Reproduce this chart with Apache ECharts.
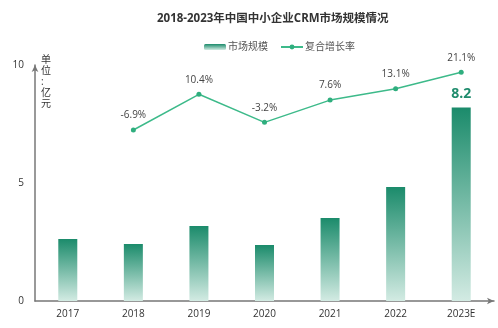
<!DOCTYPE html>
<html><head><meta charset="utf-8">
<script src="https://cdn.jsdelivr.net/npm/echarts@6/dist/echarts.min.js"></script>
<style>html,body{margin:0;padding:0;background:#fff}#c{width:498px;height:328px}</style>
</head><body><div id="c"></div>
<script>
const categories = ['2017','2018','2019','2020','2021','2022','2023E'];
const marketSize = [2.63, 2.42, 3.18, 2.37, 3.52, 4.83, 8.2];
const growthRate = [null, -6.9, 10.4, -3.2, 7.6, 13.1, 21.1];
const yTicks = [0, 5, 10];

const FONT = '"Open Sans","Noto Sans CJK SC",sans-serif';
const chart = echarts.init(document.getElementById('c'));
chart.setOption({
  animation: false,
  textStyle: {fontFamily: FONT},
  title: {
    text: '2018-2023年中国中小企业CRM市场规模情况',
    left: 152, top: 8,
    textStyle: {fontSize: 11.5, fontWeight: 'bold', color: '#333', fontFamily: FONT}
  },
  legend: {
    top: 37, left: 199, itemWidth: 22, itemHeight: 6, itemGap: 12,
    textStyle: {fontSize: 10, color: '#555', fontFamily: FONT, padding: [0, 0, 0, -3]},
    data: ['市场规模', '复合增长率']
  },
  grid: {left: 35, right: 4, top: 65, bottom: 27},
  xAxis: {
    type: 'category', data: categories,
    axisLine: {lineStyle: {color: '#777', width: 1.5}, symbol: ['none', 'arrow'], symbolSize: [5, 7]},
    axisTick: {show: false},
    axisLabel: {fontSize: 10, color: '#333', margin: 8}
  },
  yAxis: [{
    type: 'value', min: yTicks[0], max: yTicks[yTicks.length - 1], interval: 5,
    name: '单\n位\n:\n亿\n元', nameLocation: 'end', nameGap: 10,
    nameTextStyle: {align: 'left', verticalAlign: 'top', fontSize: 10, color: '#333', lineHeight: 11, padding: [0, 0, 0, 6]},
    axisLine: {show: true, lineStyle: {color: '#777', width: 1.5}, symbol: ['none', 'arrow'], symbolSize: [5, 7]},
    axisTick: {show: false},
    splitLine: {show: false},
    axisLabel: {fontSize: 10, color: '#333', margin: 11}
  }, {
    type: 'value', min: -89.75, max: 24.6, show: false, splitLine: {show: false}
  }],
  series: [{
    name: '市场规模', type: 'bar', data: marketSize, barWidth: 19,
    itemStyle: {color: new echarts.graphic.LinearGradient(0, 0, 0, 1, [
      {offset: 0, color: '#1b8b6b'}, {offset: 1, color: '#d3ebe3'}
    ])},
    label: {
      show: true, position: 'top', distance: 6,
      formatter: p => p.dataIndex === marketSize.length - 1 ? p.value : '',
      fontSize: 14, fontWeight: 'bold', color: '#1f8c6d'
    }
  }, {
    name: '复合增长率', type: 'line', yAxisIndex: 1, data: growthRate,
    symbol: 'circle', symbolSize: 5,
    lineStyle: {color: '#3dba8a', width: 1.5},
    itemStyle: {color: '#2fae7e'},
    label: {show: true, position: 'top', distance: 7, formatter: '{c}%', fontSize: 10, color: '#444'}
  }]
});
</script></body></html>
